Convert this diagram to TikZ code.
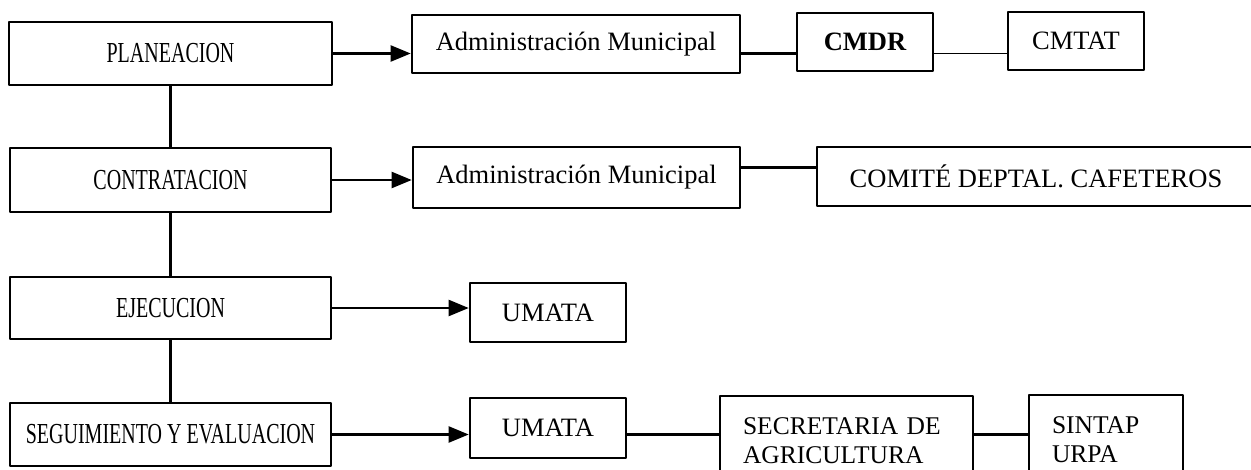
\documentclass[tikz,border=0pt]{standalone}
\usepackage{fontspec}
\setmainfont{Liberation Serif}
\usetikzlibrary{arrows.meta}
\newcommand{\angosto}[1]{\scalebox{0.69}[1]{#1}}
\begin{document}
\begin{tikzpicture}[x=1pt, y=-1pt, >={Triangle[length=20pt,width=16pt]}, line width=2.2pt, line join=round,
	etapa/.style={draw, line width=2.6pt, inner sep=0pt, font=\fontsize{29}{32}\selectfont},
	ente/.style={draw, line width=2.6pt, inner sep=0pt, font=\fontsize{26.5}{29}\selectfont},
	ente2/.style={ente, align=left, inner xsep=23pt, text width=#1}]
	\useasboundingbox (0,0) rectangle (1251,469);
	\clip (0,0) rectangle (1251,469);
	% etapas del proceso
	\node[etapa, minimum width=323, minimum height=63] (plan) at (170.5,53.5) {\angosto{PLANEACION}};
	\node[etapa, minimum width=321, minimum height=64] (contr) at (170.5,180) {\angosto{CONTRATACION}};
	\node[etapa, minimum width=321, minimum height=62] (ejec) at (170.5,308) {\angosto{EJECUCION}};
	\node[etapa, minimum width=321, minimum height=63] (seg) at (170.5,434.5) {\angosto{SEGUIMIENTO Y EVALUACION}};
	\draw (plan.south) -- (contr.north) (contr.south) -- (ejec.north) (ejec.south) -- (seg.north);
	% responsables
	\node[ente, minimum width=328, minimum height=58] (adm1) at (576,44) {Administración Municipal};
	\node[ente, minimum width=136, minimum height=58] (cmdr) at (865,42) {\bfseries CMDR};
	\node[ente, minimum width=136, minimum height=58] (cmtat) at (1076,41) {CMTAT};
	\node[ente, minimum width=327, minimum height=61] (adm2) at (576.5,177.5) {Administración Municipal};
	\node[ente, minimum width=438, minimum height=59] (comite) at (1036,176.5) {COMITÉ DEPTAL. CAFETEROS};
	\node[ente, minimum width=156, minimum height=59] (umata1) at (548,312.5) {UMATA};
	\node[ente, minimum width=156, minimum height=60] (umata2) at (548,428) {UMATA};
	\node[ente2=207pt, minimum height=90, font=\fontsize{25.5}{29}\selectfont] (sec) at (846.5,441) {SECRETARIA DE\\AGRICULTURA};
	\node[ente2=108pt, minimum height=90, font=\fontsize{25.5}{29}\selectfont] (sintap) at (1106,440) {SINTAP\\URPA};
	% conexiones
	\draw[->] (plan.east) -- (plan.east -| adm1.west);
	\draw (adm1.east |- plan.east) -- (plan.east -| cmdr.west);
	\draw[line width=1.6pt] (cmdr.east |- plan.east) -- (plan.east -| cmtat.west);
	\draw[->] (contr.east) -- (contr.east -| adm2.west);
	\draw ([yshift=10pt]adm2.east) -- ([yshift=10pt]adm2.east -| comite.west);
	\draw[->] (ejec.east) -- (ejec.east -| umata1.west);
	\draw[->] (seg.east) -- (seg.east -| umata2.west);
	\draw (umata2.east |- seg.east) -- (seg.east -| sec.west);
	\draw (sec.east |- seg.east) -- (seg.east -| sintap.west);
\end{tikzpicture}
\end{document}
